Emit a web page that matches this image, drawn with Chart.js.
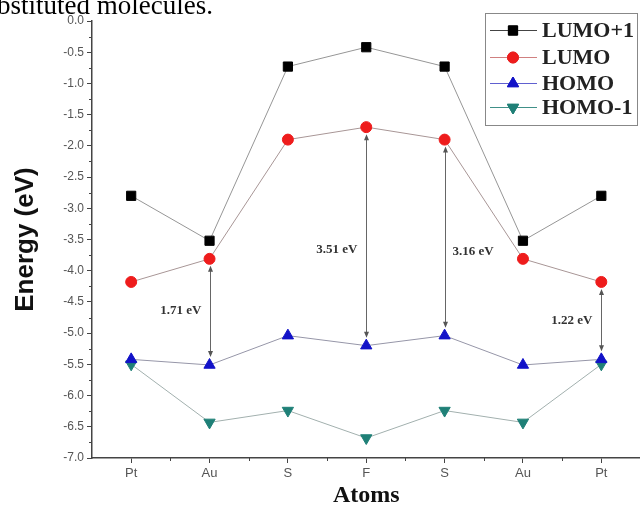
<!DOCTYPE html>
<html>
<head>
<meta charset="utf-8">
<script src="https://cdn.jsdelivr.net/npm/chart.js@4/dist/chart.umd.min.js"></script>
<style>
html,body{margin:0;padding:0;background:#fff;}
#wrap{position:relative;width:640px;height:506px;overflow:hidden;}
#caption{position:absolute;left:-3px;top:-10px;font-family:"Liberation Serif","Times New Roman",serif;font-size:27px;color:#000;white-space:nowrap;}
canvas{position:absolute;left:0;top:0;}
</style>
</head>
<body>
<div id="wrap">
<canvas id="energy-chart" width="648" height="510"></canvas>
<div id="caption">bstituted molecules.</div>
</div>
<script>

var atoms = ["Pt", "Au", "S", "F", "S", "Au", "Pt"];
var lumoPlus1 = [-2.80, -3.52, -0.73, -0.42, -0.73, -3.52, -2.80];
var lumo = [-4.18, -3.81, -1.90, -1.70, -1.90, -3.81, -4.18];
var homo = [-5.42, -5.51, -5.04, -5.20, -5.04, -5.51, -5.42];
var homoMinus1 = [-5.50, -6.43, -6.24, -6.68, -6.24, -6.43, -5.50];

// band gaps drawn as arrows LUMO -> HOMO
var gapIndex = [1, 3, 4, 6];
var gapText = ["1.71 eV", "3.51 eV", "3.16 eV", "1.22 eV"];
var gapTextY = [-4.64, -3.67, -3.70, -4.80];
var gapTextSide = ["left", "left", "right", "left"];

var yTicksMin = -7.0, yTicksMax = 0.0, yTicksStep = 0.5;


var extrasPlugin = {
    id: 'extras',
    afterDraw: function(chart){
        var ctx = chart.ctx;
        var xs = chart.scales.x, ys = chart.scales.y;
        var area = chart.chartArea;
        ctx.save();

        // minor ticks
        ctx.strokeStyle = '#444';
        ctx.lineWidth = 1;
        ctx.beginPath();
        for (var v = yTicksMin + yTicksStep / 2; v < yTicksMax; v += yTicksStep){
            var py = Math.round(ys.getPixelForValue(v)) + 0.5;
            ctx.moveTo(area.left - 3, py);
            ctx.lineTo(area.left, py);
        }
        for (var i = 0; i < atoms.length; i++){
            var px = Math.round(xs.getPixelForValue(i) + (xs.getPixelForValue(1) - xs.getPixelForValue(0)) / 2) + 0.5;
            if (px > area.right) continue;
            ctx.moveTo(px, area.bottom);
            ctx.lineTo(px, area.bottom + 3);
        }
        ctx.stroke();

        // gap arrows
        ctx.strokeStyle = '#666';
        ctx.fillStyle = '#555';
        for (var g = 0; g < gapIndex.length; g++){
            var k = gapIndex[g];
            var ax = Math.round(xs.getPixelForValue(k)) + 0.5;
            var top = ys.getPixelForValue(lumo[k]) + 7;
            var bot = ys.getPixelForValue(homo[k]) - 8;
            ctx.beginPath();
            ctx.moveTo(ax, top + 4);
            ctx.lineTo(ax, bot - 4);
            ctx.stroke();
            ctx.beginPath();
            ctx.moveTo(ax, top); ctx.lineTo(ax - 2.5, top + 6); ctx.lineTo(ax + 2.5, top + 6);
            ctx.closePath();
            ctx.moveTo(ax, bot); ctx.lineTo(ax - 2.5, bot - 6); ctx.lineTo(ax + 2.5, bot - 6);
            ctx.closePath();
            ctx.fill();

            ctx.font = 'bold 13px "Liberation Serif", serif';
            ctx.fillStyle = '#333';
            ctx.textBaseline = 'middle';
            var ty = ys.getPixelForValue(gapTextY[g]);
            if (gapTextSide[g] == "left"){
                ctx.textAlign = 'right';
                ctx.fillText(gapText[g], ax - 9, ty);
            } else {
                ctx.textAlign = 'left';
                ctx.fillText(gapText[g], ax + 7, ty);
            }
            ctx.fillStyle = '#555';
        }

        // legend box
        ctx.strokeStyle = '#888';
        ctx.lineWidth = 1;
        ctx.strokeRect(485.5, 13.5, 152, 112);
        var rows = [30, 57, 83, 107];
        var sets = chart.data.datasets;
        for (var d = 0; d < sets.length; d++){
            var ry = rows[d];
            ctx.strokeStyle = sets[d].legendLine;
            ctx.beginPath();
            ctx.moveTo(490, ry + 0.5);
            ctx.lineTo(537, ry + 0.5);
            ctx.stroke();
            Chart.helpers.drawPoint(ctx, {
                pointStyle: sets[d].pointStyle,
                rotation: sets[d].pointRotation || 0,
                radius: sets[d].pointRadius,
                borderWidth: 1
            }, 513, ry + 0.5);
            ctx.fillStyle = sets[d].pointBackgroundColor;
            ctx.strokeStyle = sets[d].pointBorderColor;
            ctx.fill();
            ctx.stroke();
            ctx.font = 'bold 22px "Liberation Serif", serif';
            ctx.fillStyle = '#222';
            ctx.textAlign = 'left';
            ctx.textBaseline = 'middle';
            ctx.fillText(sets[d].label, 542, ry + 1);
        }
        ctx.restore();
    }
};


function makeSet(label, values, pointStyle, color, lineColor, legendLine, radius, rotation){
    return {
        label: label,
        data: values,
        borderColor: lineColor,
        borderWidth: 1,
        pointStyle: pointStyle,
        pointRotation: rotation,
        pointRadius: radius,
        pointHoverRadius: radius,
        pointBackgroundColor: color,
        pointBorderColor: color,
        pointBorderWidth: 1,
        legendLine: legendLine,
        tension: 0,
        fill: false
    };
}


var chart = new Chart(document.getElementById("energy-chart"), {
    type: 'line',
    data: {
        labels: atoms,
        datasets: [
            makeSet("LUMO+1", lumoPlus1, 'rect', '#000000', '#969696', '#444444', 6.5, 0),
            makeSet("LUMO", lumo, 'circle', '#ee1c1c', '#a89696', '#d08080', 5.5, 0),
            makeSet("HOMO", homo, 'triangle', '#1212c8', '#9696a8', '#6060d0', 6.5, 0),
            makeSet("HOMO-1", homoMinus1, 'triangle', '#1f8077', '#a2b0ae', '#409088', 6.5, 180)
        ]
    },
    options: {
        responsive: false,
        animation: false,
        events: [],
        layout: {
            padding: {top: 21, right: 0, bottom: 0, left: 0}
        },
        plugins: {
            legend: {display: false},
            tooltip: {enabled: false}
        },
        scales: {
            x: {
                type: 'category',
                offset: true,
                grid: {
                    offset: false,
                    drawOnChartArea: false,
                    drawTicks: true,
                    tickLength: 5,
                    color: '#444'
                },
                border: {display: true, color: '#444', width: 1.5},
                ticks: {
                    color: '#555',
                    padding: 3,
                    font: {family: '"Liberation Sans", Arial, sans-serif', size: 13}
                },
                title: {
                    display: true,
                    text: 'Atoms',
                    color: '#111',
                    padding: {top: 0, bottom: 0},
                    font: {family: '"Liberation Serif", serif', size: 24, weight: 'bold'}
                },
                afterFit: function(scale){ scale.height = 52; }
            },
            y: {
                min: yTicksMin,
                max: yTicksMax,
                grid: {
                    drawOnChartArea: false,
                    drawTicks: true,
                    tickLength: 5,
                    color: '#444'
                },
                border: {display: true, color: '#444', width: 1.5},
                ticks: {
                    stepSize: yTicksStep,
                    color: '#555',
                    padding: 3,
                    font: {family: '"Liberation Sans", Arial, sans-serif', size: 12},
                    callback: function(v){ return Number(v).toFixed(1); }
                },
                title: {
                    display: true,
                    text: 'Energy (eV)',
                    color: '#111',
                    padding: {top: 10, bottom: 0},
                    font: {family: '"Liberation Sans", Arial, sans-serif', size: 26, weight: 'bold'}
                },
                afterFit: function(scale){ scale.width = 92; }
            }
        }
    },
    plugins: [extrasPlugin]
});

</script>
</body>
</html>
